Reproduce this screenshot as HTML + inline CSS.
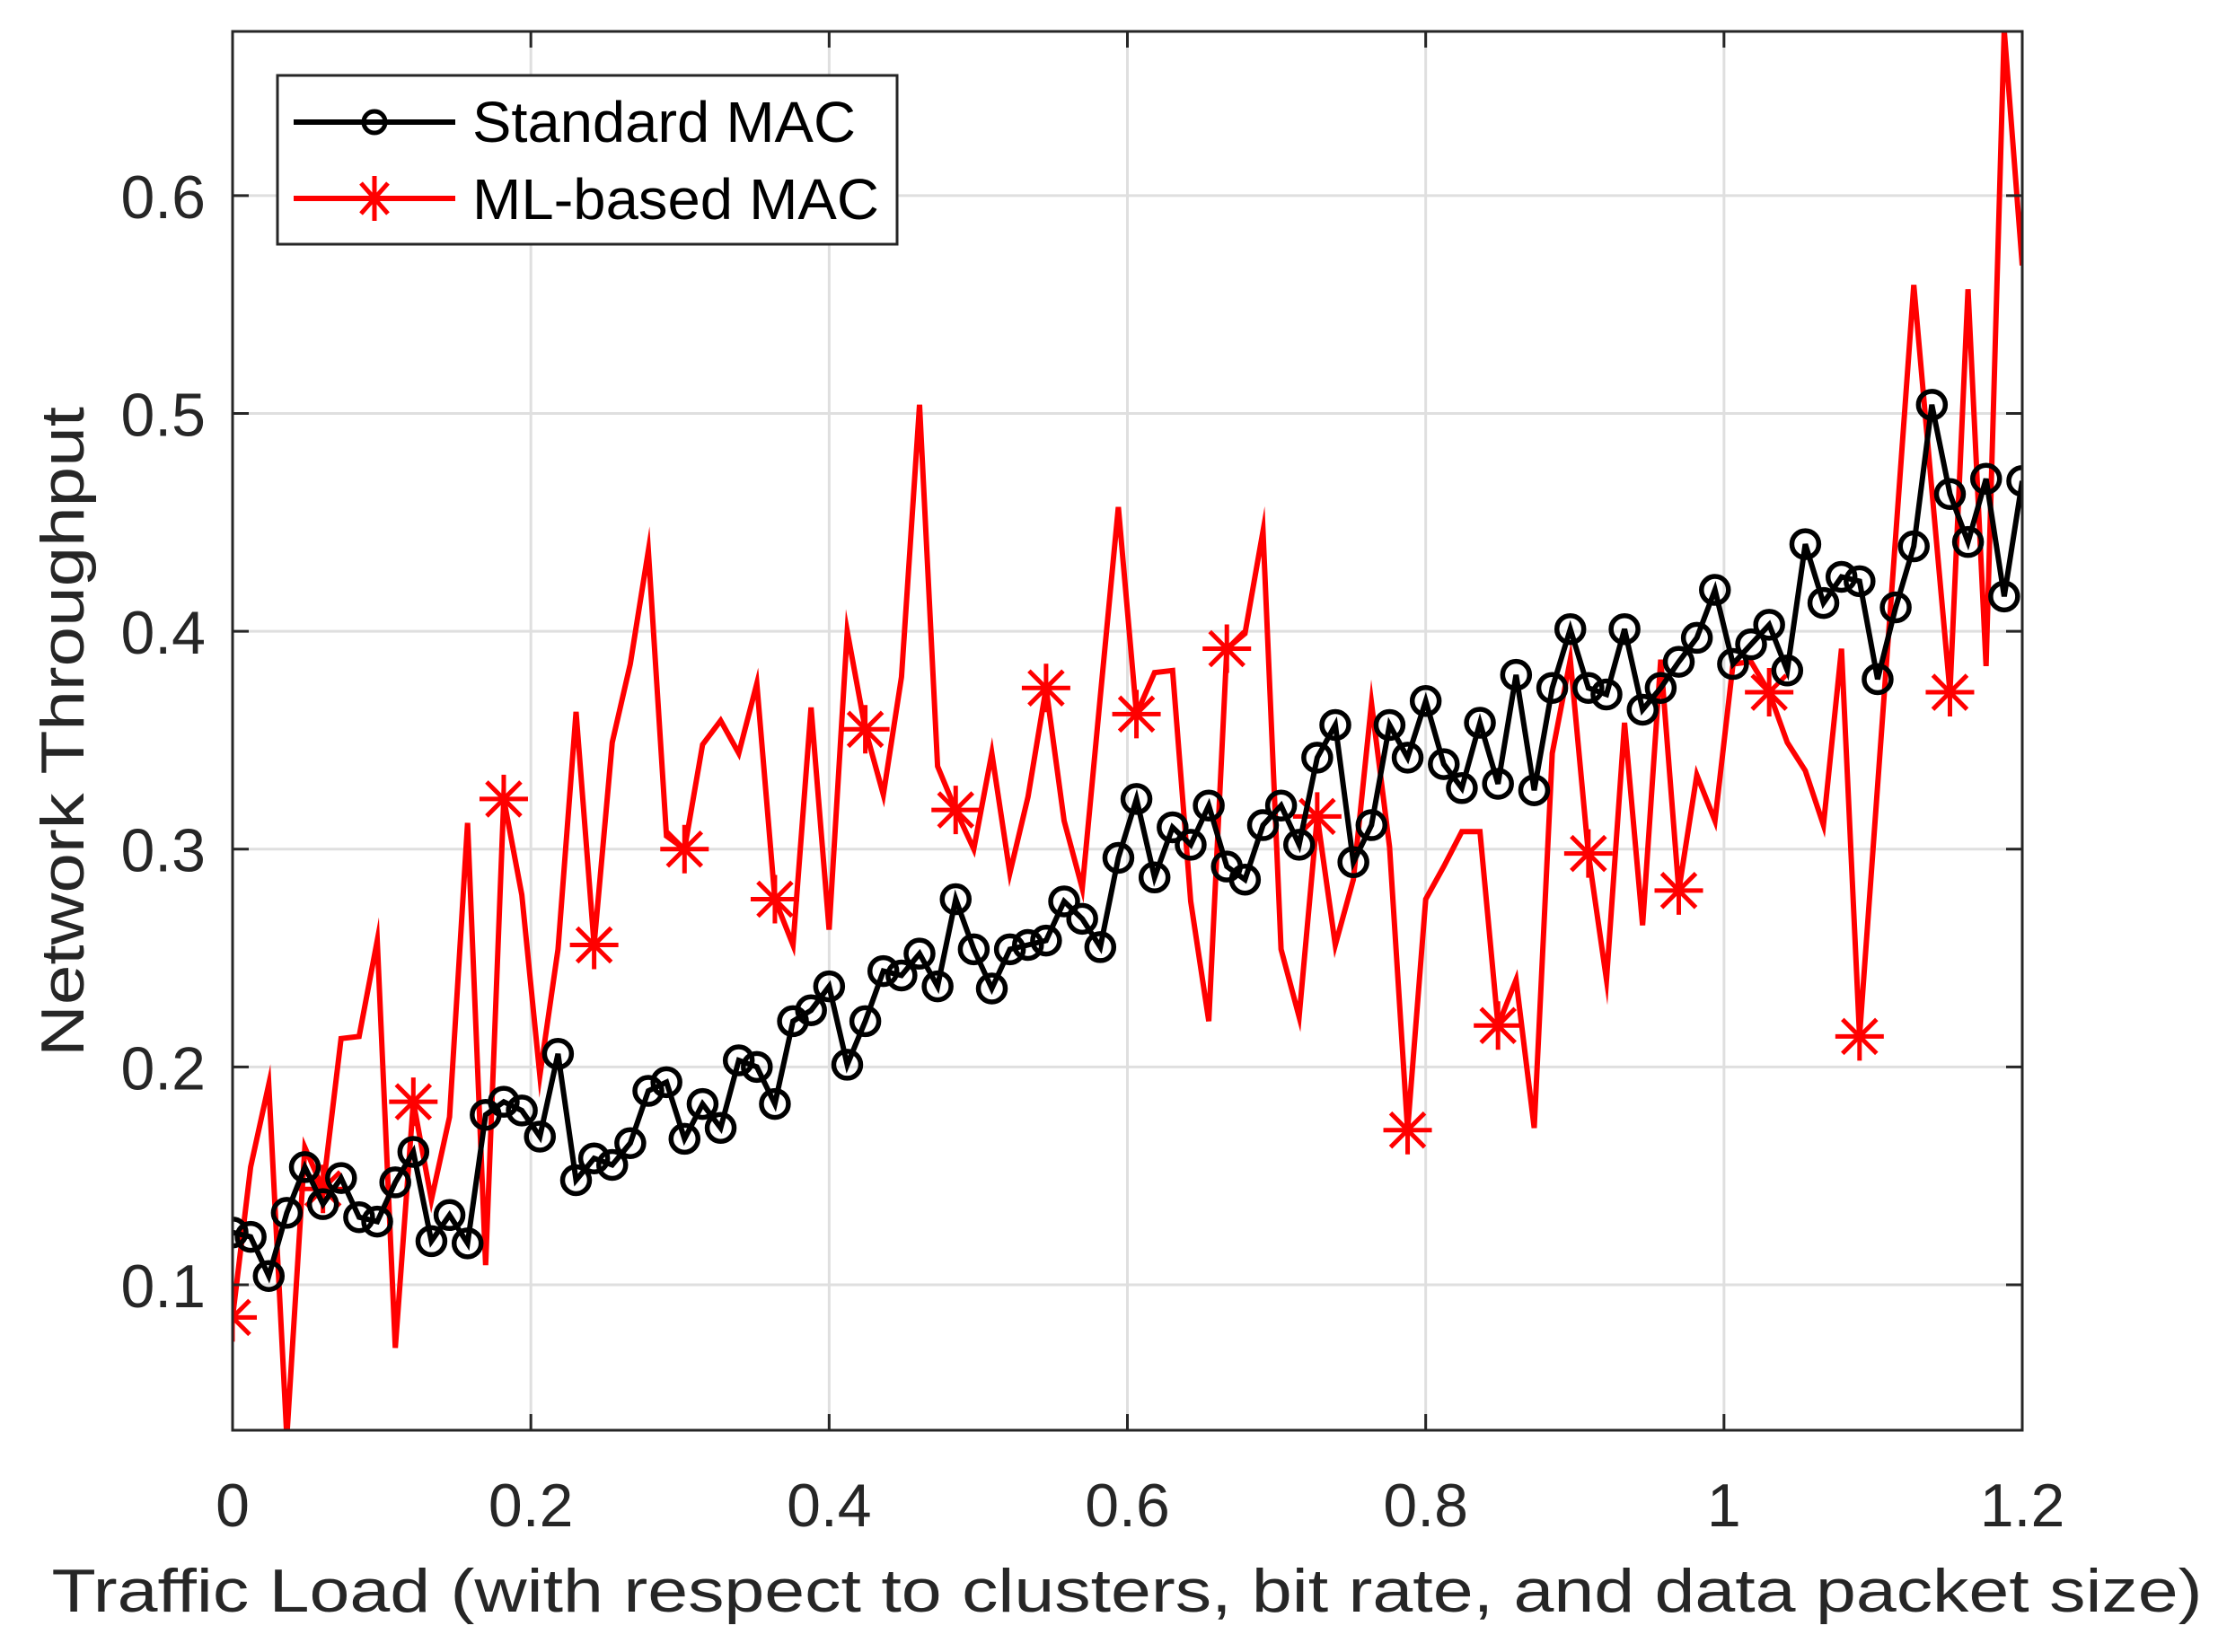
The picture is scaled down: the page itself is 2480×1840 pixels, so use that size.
<!DOCTYPE html>
<html><head><meta charset="utf-8"><style>
html,body{margin:0;padding:0;background:#fff;}
svg{display:block;font-family:"Liberation Sans",Arial,sans-serif;}
</style></head><body>
<svg id="chart" width="2480" height="1840" viewBox="0 0 2480 1840" xmlns="http://www.w3.org/2000/svg">
<rect x="0" y="0" width="2480" height="1840" fill="#fff"/>
<g id="grid"></g>
<defs><clipPath id="clip"><rect x="259" y="35" width="1993" height="1558"/></clipPath></defs>
<g id="series" clip-path="url(#clip)"></g>
<g id="axes"></g>
<text x="1255" y="1795" font-size="68" fill="#262626" text-anchor="middle" textLength="2395" lengthAdjust="spacingAndGlyphs">Traffic Load (with respect to clusters, bit rate, and data packet size)</text>
<text transform="translate(93,815) rotate(-90)" font-size="68" fill="#262626" text-anchor="middle" textLength="724" lengthAdjust="spacingAndGlyphs">Network Throughput</text>
<g>
<rect x="309" y="84" width="690" height="188" fill="#fff" stroke="#262626" stroke-width="3"/>
<g>
<line x1="327" y1="136" x2="507" y2="136" stroke="#000" stroke-width="6"/>
<circle cx="417" cy="136" r="12" fill="none" stroke="#000" stroke-width="5"/>
<text x="526" y="158" font-size="64" fill="#000" textLength="427" lengthAdjust="spacingAndGlyphs">Standard MAC</text>
</g>
<g>
<line x1="327" y1="221" x2="507" y2="221" stroke="#f00" stroke-width="6"/>
<g stroke="#f00" stroke-width="5">
<line x1="417" y1="196" x2="417" y2="246"/><line x1="392" y1="221" x2="442" y2="221"/>
<line x1="402" y1="204" x2="432" y2="238"/><line x1="402" y1="238" x2="432" y2="204"/>
</g>
<text x="526" y="244" font-size="64" fill="#000" textLength="453" lengthAdjust="spacingAndGlyphs">ML-based MAC</text>
</g>
</g>
</svg>
<script>
const xTicks = [0, 0.2, 0.4, 0.6, 0.8, 1, 1.2];
const xTickLabels = ["0", "0.2", "0.4", "0.6", "0.8", "1", "1.2"];
const yTicks = [0.1, 0.2, 0.3, 0.4, 0.5, 0.6];
const yTickLabels = ["0.1", "0.2", "0.3", "0.4", "0.5", "0.6"];
const nPoints = 100;
const xMax = 1.2;
const standardMAC = [0.124,0.122,0.104,0.133,0.154,0.137,0.149,0.131,0.129,0.147,
0.161,0.120,0.132,0.119,0.178,0.184,0.180,0.168,0.206,0.148,
0.158,0.155,0.165,0.189,0.193,0.167,0.183,0.172,0.203,0.200,
0.183,0.221,0.226,0.237,0.201,0.221,0.244,0.242,0.252,0.237,
0.277,0.254,0.236,0.254,0.256,0.258,0.276,0.268,0.255,0.296,
0.323,0.287,0.310,0.302,0.320,0.292,0.286,0.311,0.320,0.302,
0.342,0.357,0.294,0.311,0.357,0.342,0.368,0.339,0.328,0.358,
0.330,0.380,0.327,0.374,0.401,0.374,0.371,0.401,0.364,0.374,
0.386,0.397,0.419,0.385,0.394,0.403,0.382,0.440,0.413,0.425,
0.423,0.378,0.411,0.439,0.504,0.463,0.441,0.470,0.416,0.469];
const mlMAC = [0.085,0.154,0.192,0.030,0.163,0.144,0.213,0.214,0.258,0.071,
0.184,0.139,0.177,0.312,0.109,0.323,0.279,0.196,0.254,0.363,
0.256,0.349,0.385,0.437,0.306,0.300,0.348,0.359,0.344,0.376,
0.277,0.256,0.365,0.263,0.400,0.355,0.325,0.379,0.504,0.338,
0.318,0.300,0.344,0.289,0.324,0.374,0.313,0.282,0.370,0.457,
0.362,0.381,0.382,0.276,0.221,0.392,0.399,0.446,0.254,0.223,
0.315,0.256,0.286,0.367,0.301,0.171,0.277,0.292,0.308,0.308,
0.219,0.240,0.172,0.344,0.387,0.298,0.240,0.358,0.265,0.387,
0.281,0.334,0.313,0.385,0.386,0.372,0.349,0.336,0.311,0.392,
0.214,0.329,0.444,0.559,0.465,0.372,0.557,0.384,0.676,0.568];

const NS = "http://www.w3.org/2000/svg";
const X0 = 259, X1 = 2252, YT = 35, YB = 1593;
const yMin = 0.0332, yMax = 0.6754;
function xs(v){ return X0 + (v / xMax) * (X1 - X0); }
function ys(v){ return YB - (v - yMin) / (yMax - yMin) * (YB - YT); }
function mk(tag, attrs, parent){ const e = document.createElementNS(NS, tag); for (const k in attrs) e.setAttribute(k, attrs[k]); parent.appendChild(e); return e; }

const grid = document.getElementById('grid');
const axes = document.getElementById('axes');
const series = document.getElementById('series');

xTicks.forEach((t, i) => {
  const gx = mk('line', {x1: xs(t), y1: YT, x2: xs(t), y2: YB, stroke: '#dfdfdf', 'stroke-width': 3}, grid);
  
  
  const tb = mk('line', {x1: xs(t), y1: YB, x2: xs(t), y2: YB - 18, stroke: '#262626', 'stroke-width': 3}, axes);
  
  
  mk('line', {x1: xs(t), y1: YT, x2: xs(t), y2: YT + 18, stroke: '#262626', 'stroke-width': 3}, axes);
  const lab = mk('text', {x: xs(t), y: 1700, 'font-size': 68, fill: '#262626', 'text-anchor': 'middle'}, axes);
  lab.textContent = xTickLabels[i];
  
  
});
yTicks.forEach((t, i) => {
  const gy = mk('line', {x1: X0, y1: ys(t), x2: X1, y2: ys(t), stroke: '#dfdfdf', 'stroke-width': 3}, grid);
  
  
  const tl = mk('line', {x1: X0, y1: ys(t), x2: X0 + 18, y2: ys(t), stroke: '#262626', 'stroke-width': 3}, axes);
  
  
  mk('line', {x1: X1, y1: ys(t), x2: X1 - 18, y2: ys(t), stroke: '#262626', 'stroke-width': 3}, axes);
  const lab = mk('text', {x: 229, y: ys(t) + 25, 'font-size': 68, fill: '#262626', 'text-anchor': 'end'}, axes);
  lab.textContent = yTickLabels[i];
  
  
});
const box = mk('rect', {x: X0, y: YT, width: X1 - X0, height: YB - YT, fill: 'none', stroke: '#262626', 'stroke-width': 3}, axes);



function xOf(i){ return i * xMax / (nPoints - 1); }

const redPts = mlMAC.map((v, i) => xs(xOf(i)).toFixed(1) + ',' + ys(v).toFixed(1)).join(' ');
const redLine = mk('polyline', {points: redPts, fill: 'none', stroke: '#f00', 'stroke-width': 6, 'stroke-linejoin': 'miter', 'stroke-miterlimit': 10}, series);


mlMAC.forEach((v, i) => {
  if (i % 5 !== 0) return;
  const cx = xs(xOf(i)), cy = ys(v), r = 27, d = 19;
  const g = mk('g', {stroke: '#f00', 'stroke-width': 5}, series);
  
  
  mk('line', {x1: cx, y1: cy - r, x2: cx, y2: cy + r}, g);
  mk('line', {x1: cx - r, y1: cy, x2: cx + r, y2: cy}, g);
  mk('line', {x1: cx - d, y1: cy - d, x2: cx + d, y2: cy + d}, g);
  mk('line', {x1: cx - d, y1: cy + d, x2: cx + d, y2: cy - d}, g);
});

const blkPts = standardMAC.map((v, i) => xs(xOf(i)).toFixed(1) + ',' + ys(v).toFixed(1)).join(' ');
const blkLine = mk('polyline', {points: blkPts, fill: 'none', stroke: '#000', 'stroke-width': 6}, series);


standardMAC.forEach((v, i) => {
  const c = mk('circle', {cx: xs(xOf(i)), cy: ys(v), r: 15, fill: 'none', stroke: '#000', 'stroke-width': 5.5}, series);
  
  
});
</script>
</body></html>
